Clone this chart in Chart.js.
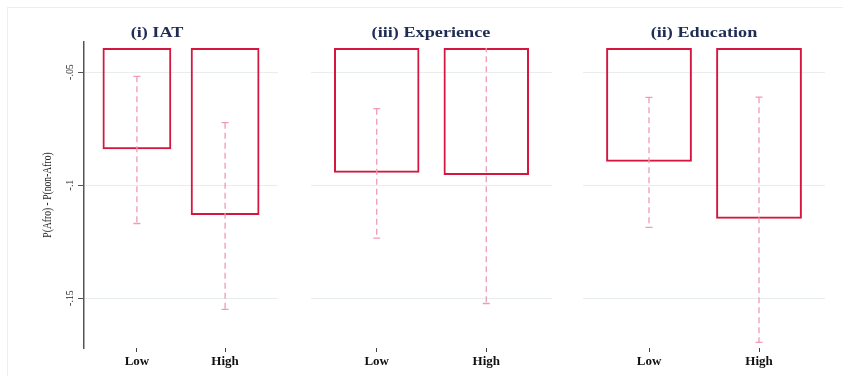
<!DOCTYPE html>
<html>
<head>
<meta charset="utf-8">
<script src="https://cdn.jsdelivr.net/npm/chart.js@4.4.1/dist/chart.umd.min.js"></script>
<style>
  body { margin: 0; background: #fff; width: 843px; height: 383px; overflow: hidden; position: relative; }
  .frame { position: absolute; left: 7px; top: 7px; width: 836px; height: 368px; border-left: 1px solid #eeeeee; border-top: 1px solid #eeeeee; }
  .panel { position: absolute; top: 0; height: 383px; }
</style>
</head>
<body>
<div class="frame"></div>
<div class="panel" style="left:0px;width:314px"><canvas id="p1"></canvas></div>
<div class="panel" style="left:290px;width:282px"><canvas id="p2"></canvas></div>
<div class="panel" style="left:573px;width:262px"><canvas id="p3"></canvas></div>
<script>
// values
const categories = ['Low', 'High'];
const panelTitles = ['(i) IAT', '(iii) Experience', '(ii) Education'];

const iatMean = [-0.0842, -0.1133];
const iatLower = [-0.1170, -0.1550];
const iatUpper = [-0.0519, -0.0724];

const expMean = [-0.0946, -0.0955];
const expLower = [-0.1235, -0.1524];
const expUpper = [-0.0662, -0.0386];

const eduMean = [-0.0897, -0.1149];
const eduLower = [-0.1187, -0.1696];
const eduUpper = [-0.0612, -0.0611];

const yTicks = [-0.05, -0.1, -0.15];
const yTickLabels = ['-.05', '-.1', '-.15'];
const yTitle = 'P(Afro) - P(non-Afro)';
const BAR_TOP = -0.0394; // bars are cut off at the top of the plot region

const Y_MIN = -0.1721;
const Y_MAX = -0.0367;

const SERIF = '"Liberation Serif", "DejaVu Serif", serif';

function makePanel(canvasId, title, mean, lower, upper, padLeft, padRight, showAxis) {
  const overlay = {
    id: 'overlay',
    afterDatasetsDraw(chart) {
      const { ctx, chartArea, scales: { x, y } } = chart;
      const clipTop = y.getPixelForValue(BAR_TOP);
      ctx.save();
      ctx.beginPath();
      ctx.rect(chartArea.left, clipTop, chartArea.width, chartArea.bottom - clipTop);
      ctx.clip();
      ctx.strokeStyle = '#ef9bb3';
      ctx.lineWidth = 1.3;
      lower.forEach((lo, i) => {
        const px = x.getPixelForValue(i + 1);
        const top = y.getPixelForValue(upper[i]);
        const bot = y.getPixelForValue(lo);
        ctx.setLineDash([6, 4]);
        ctx.beginPath();
        ctx.moveTo(px, top);
        ctx.lineTo(px, bot);
        ctx.stroke();
        ctx.setLineDash([]);
        ctx.beginPath();
        ctx.moveTo(px - 3.5, top); ctx.lineTo(px + 3.5, top);
        ctx.moveTo(px - 3.5, bot); ctx.lineTo(px + 3.5, bot);
        ctx.stroke();
      });
      ctx.restore();
    },
    afterDraw(chart) {
      const { ctx, chartArea, scales: { y } } = chart;
      // panel title, the source is stretched sideways
      ctx.save();
      ctx.fillStyle = '#1f2d52';
      ctx.font = 'bold 14px ' + SERIF;
      ctx.textAlign = 'center';
      ctx.textBaseline = 'middle';
      ctx.translate(chart.width / 2, 33);
      ctx.scale(1.3, 1);
      ctx.fillText(title, 0, 0);
      ctx.restore();

      if (!showAxis) return;
      // rotated y tick labels
      yTicks.forEach((v, i) => {
        ctx.save();
        ctx.fillStyle = '#222';
        ctx.font = '11px ' + SERIF;
        ctx.textAlign = 'center';
        ctx.textBaseline = 'middle';
        ctx.translate(70, y.getPixelForValue(v));
        ctx.rotate(-Math.PI / 2);
        ctx.scale(0.9, 1);
        ctx.fillText(yTickLabels[i], 0, 0);
        ctx.restore();
      });
      // y axis title
      ctx.save();
      ctx.fillStyle = '#222';
      ctx.font = '12px ' + SERIF;
      ctx.textAlign = 'center';
      ctx.textBaseline = 'middle';
      ctx.translate(48, (chartArea.top + chartArea.bottom) / 2);
      ctx.rotate(-Math.PI / 2);
      ctx.scale(0.8, 1);
      ctx.fillText(yTitle, 0, 0);
      ctx.restore();
    }
  };

  return new Chart(document.getElementById(canvasId), {
    type: 'bar',
    data: {
      datasets: [{
        data: mean.map((m, i) => ({ x: i + 1, y: [BAR_TOP, m] })),
        backgroundColor: 'rgba(0,0,0,0)',
        borderColor: '#d4173f',
        borderWidth: 2,
        borderSkipped: false,
        barPercentage: 0.78,
        categoryPercentage: 1,
      }],
    },
    options: {
      responsive: true,
      maintainAspectRatio: false,
      animation: false,
      layout: { padding: { left: 0, right: padRight, top: 42, bottom: 0 } },
      plugins: { legend: { display: false }, tooltip: { enabled: false }, title: { display: false } },
      scales: {
        x: {
          type: 'linear',
          offset: false,
          min: 0.4,
          max: 2.6,
          afterBuildTicks: (s) => { s.ticks = [{ value: 1 }, { value: 2 }]; },
          afterFit: (s) => { s.height = 35; },
          border: { display: false },
          grid: { offset: false, drawOnChartArea: false, drawTicks: true, tickLength: 4, tickColor: '#444' },
          ticks: {
            autoSkip: false,
            maxRotation: 0,
            padding: 2,
            color: '#111',
            font: { family: SERIF, size: 13, weight: 'bold' },
            callback: (v) => categories[v - 1],
          },
        },
        y: {
          min: Y_MIN,
          max: Y_MAX,
          afterBuildTicks: (s) => { s.ticks = yTicks.map((v) => ({ value: v })); },
          afterFit: (s) => { s.width = padLeft; },
          border: { display: showAxis, color: '#555', width: 1.5 },
          grid: { color: '#e8eded', lineWidth: 1, drawTicks: showAxis, tickLength: 6, tickColor: '#555' },
          ticks: { display: false },
        },
      },
    },
    plugins: [overlay],
  });
}

makePanel('p1', panelTitles[0], iatMean, iatLower, iatUpper, 84, 36, true);
makePanel('p2', panelTitles[1], expMean, expLower, expUpper, 21, 20, false);
makePanel('p3', panelTitles[2], eduMean, eduLower, eduUpper, 10, 10, false);
</script>
</body>
</html>
